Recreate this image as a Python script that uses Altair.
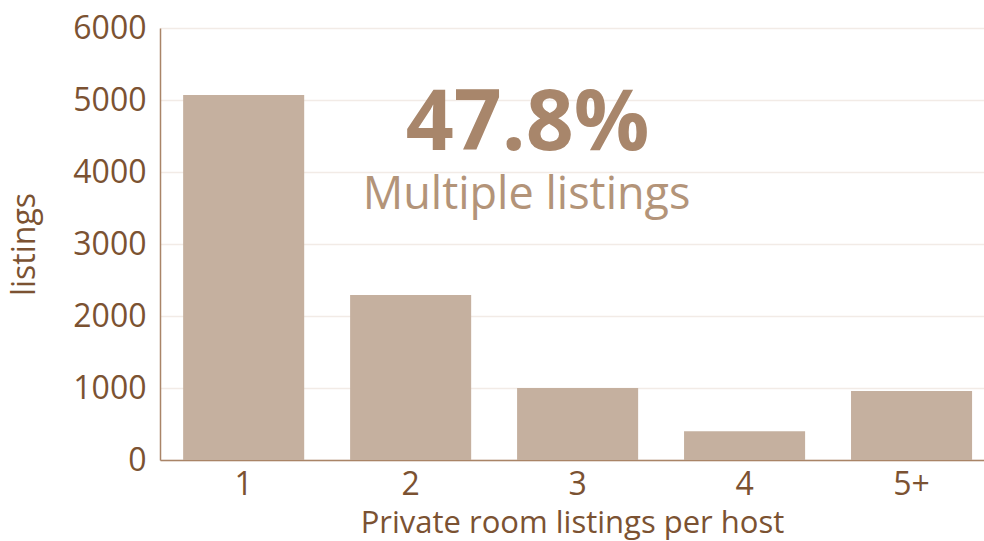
import altair as alt
import pandas as pd

categories = ["1", "2", "3", "4", "5+"]
listings = [5070, 2290, 1000, 400, 960]

headline = ["47.8%"]
subline = ["Multiple listings"]

FONT = "Open Sans"
AXIS_COL = "#7b5232"
BAR_COL = "#c5b09f"

df = pd.DataFrame({"hosts": categories, "listings": listings})

x = alt.X(
    "hosts:N",
    sort=categories,
    scale=alt.Scale(paddingInner=0.275, paddingOuter=0.105, align=0.66),
    axis=alt.Axis(
        title="Private room listings per host",
        labelAngle=0,
        labelFontSize=32,
        labelColor=AXIS_COL,
        labelFont=FONT,
        labelPadding=9,
        ticks=False,
        domainColor="#a98467",
        domainWidth=1.5,
        titleFontSize=31,
        titleFont=FONT,
        titleFontWeight="normal",
        titleColor=AXIS_COL,
        titleY=72,
        titleBaseline="alphabetic",
    ),
)

y = alt.Y(
    "listings:Q",
    scale=alt.Scale(domain=[0, 6000], nice=False),
    axis=alt.Axis(
        title="listings",
        format="d",
        values=[0, 1000, 2000, 3000, 4000, 5000, 6000],
        labelFontSize=32,
        labelColor=AXIS_COL,
        labelFont=FONT,
        labelPadding=14,
        ticks=False,
        domainColor="#a98467",
        domainWidth=1.5,
        gridColor="#f2ebe6",
        gridWidth=1.5,
        titleFontSize=32,
        titleFont=FONT,
        titleFontWeight="normal",
        titleColor=AXIS_COL,
        titleX=-136,
        titleY=216,
        titleAngle=-90,
        titleBaseline="middle",
        titleAlign="center",
    ),
)

bars = alt.Chart(df).mark_bar(color=BAR_COL).encode(x=x, y=y)

ann1 = pd.DataFrame({"hosts": ["3"], "v": [4300], "t": headline})
ann2 = pd.DataFrame({"hosts": ["3"], "v": [3480], "t": subline})

t1 = alt.Chart(ann1).mark_text(
    font=FONT, fontSize=84, fontWeight="bold", color="#a8866b",
    align="center", baseline="alphabetic", dx=-50,
).encode(x=alt.X("hosts:N", sort=categories), y=alt.Y("v:Q"), text="t:N")

t2 = alt.Chart(ann2).mark_text(
    font=FONT, fontSize=45, color="#b39479",
    align="center", baseline="alphabetic", dx=-51,
).encode(x=alt.X("hosts:N", sort=categories), y=alt.Y("v:Q"), text="t:N")

chart = (
    alt.layer(bars, t1, t2)
    .properties(
        width=824,
        height=432,
        autosize=alt.AutoSizeParams(type="none"),
        padding={"left": 160, "top": 28, "right": 0, "bottom": 81},
        background="white",
    )
    .configure_view(stroke=None)
)

chart.save("out.html", embed_options={"renderer": "svg", "actions": False})
